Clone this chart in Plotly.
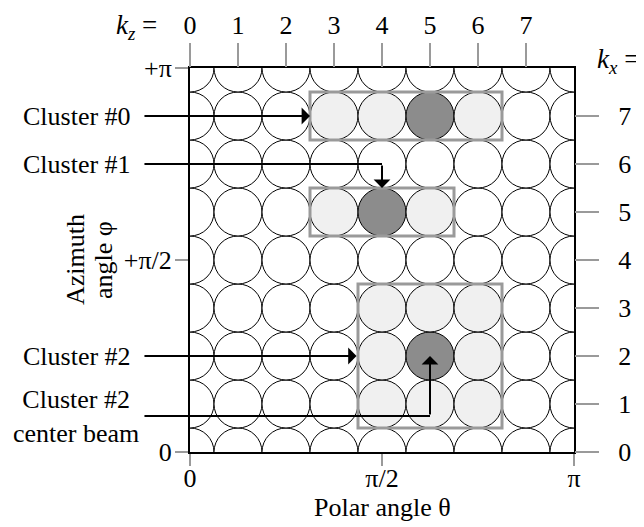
import plotly.graph_objects as go

# ---------------- data ----------------
kz_grid = [0, 1, 2, 3, 4, 5, 6, 7, 8]          # circle centres along k_z
kx_grid = [0, 1, 2, 3, 4, 5, 6, 7, 8]          # circle centres along k_x
kz_ticks = [0, 1, 2, 3, 4, 5, 6, 7]
kx_ticks = [0, 1, 2, 3, 4, 5, 6, 7]
theta_tickvals = [0, 4, 8]
theta_ticktext = ["0", "π/2", "π"]
phi_tickvals = [0, 4, 8]
phi_ticktext = ["0", "+π/2", "+π"]

# shaded beams (kz, kx)
light_kz = [3, 4, 6, 3, 5, 4, 5, 6, 4, 6, 4, 5, 6]
light_kx = [7, 7, 7, 5, 5, 1, 1, 1, 2, 2, 3, 3, 3]
dark_kz = [5, 4, 5]
dark_kx = [7, 5, 2]

# clusters (beam index extents)
cluster_names = ["Cluster #0", "Cluster #1", "Cluster #2"]
cluster_kz_min = [3, 3, 4]
cluster_kz_max = [6, 5, 6]
cluster_kx_min = [7, 5, 1]
cluster_kx_max = [7, 5, 3]

# pointer arrows: label row (kx), elbow / head positions (kz, kx)
label_texts = ["Cluster #0", "Cluster #1", "Cluster #2", "Cluster #2<br>center beam"]
label_kx = [7, 6, 2, 0.75]
tail_kz = -0.98
head_kz = [2.5, 4, 3.47, 5]
head_kx = [7, 5.5, 2, 2]

x_title = "Polar angle θ"
y_title_lines = ["Azimuth", "angle φ"]

FONT = "Liberation Serif"
FS = 26
LIGHT = "#f0f0f0"
DARK = "#8c8c8c"
GRAY = "#9a9a9a"

# ---------------- figure ----------------
cx, cy, cc = [], [], []
light = set(zip(light_kz, light_kx))
dark = set(zip(dark_kz, dark_kx))
for a in kz_grid:
    for b in kx_grid:
        cx.append(a)
        cy.append(b)
        cc.append(DARK if (a, b) in dark else LIGHT if (a, b) in light else "white")

fig = go.Figure()
fig.add_trace(go.Scatter(
    x=cx, y=cy, mode="markers", hoverinfo="skip", showlegend=False,
    marker=dict(size=48, color=cc, line=dict(color="black", width=1)),
    cliponaxis=True,
))
# invisible trace for the top/right index axes
fig.add_trace(go.Scatter(x=kz_ticks, y=kx_ticks, xaxis="x2", yaxis="y2",
                         mode="markers", marker=dict(opacity=0), hoverinfo="skip",
                         showlegend=False))

for i in range(len(cluster_names)):
    fig.add_shape(type="rect", xref="x", yref="y",
                  x0=cluster_kz_min[i] - 0.5, x1=cluster_kz_max[i] + 0.5,
                  y0=cluster_kx_min[i] - 0.5, y1=cluster_kx_max[i] + 0.5,
                  line=dict(color=GRAY, width=3), layer="above")

txtfont = dict(family=FONT, size=FS, color="black")
ann = []
for i, t in enumerate(label_texts):
    elbow = head_kx[i] != label_kx[i]
    x_corner = head_kz[i]
    ann.append(dict(xref="x", yref="y", axref="x", ayref="y",
                    x=x_corner, y=label_kx[i], ax=tail_kz, ay=label_kx[i],
                    showarrow=True, text="",
                    arrowhead=0 if elbow else 1, arrowsize=1.4, arrowwidth=2,
                    arrowcolor="black", standoff=0, startstandoff=0))
    if elbow:
        ann.append(dict(xref="x", yref="y", axref="x", ayref="y",
                        x=head_kz[i], y=head_kx[i], ax=x_corner, ay=label_kx[i],
                        showarrow=True, text="", arrowhead=1, arrowsize=1.4,
                        arrowwidth=2, arrowcolor="black", standoff=0, startstandoff=0))
    if "<br>" in t:
        ann.append(dict(xref="paper", yref="y", x=(76 - 190) / 384, y=label_kx[i],
                        xanchor="center", yanchor="middle", text=t, showarrow=False,
                        font=txtfont))
    else:
        ann.append(dict(xref="paper", yref="y", x=(133 - 190) / 384, y=label_kx[i],
                        xanchor="right", yanchor="middle", text=t, showarrow=False,
                        font=txtfont))

ann.append(dict(xref="paper", yref="paper", x=-0.082, y=1.108, xanchor="right",
                yanchor="middle", showarrow=False,
                text="<i>k</i><sub><i>z</i></sub> =",
                font=dict(family=FONT, size=FS + 1, color="black")))
ann.append(dict(xref="paper", yref="paper", x=1.055, y=1.018, xanchor="left",
                yanchor="middle", showarrow=False,
                text="<i>k</i><sub><i>x</i></sub> =",
                font=dict(family=FONT, size=FS + 1, color="black")))
# axis titles
ann.append(dict(xref="paper", yref="paper", x=0.5, y=(452 - 507) / 384,
                xanchor="center", yanchor="middle", showarrow=False,
                text=x_title, font=txtfont))
for j, line in enumerate(y_title_lines):
    ann.append(dict(xref="paper", yref="y", x=(75 + 28 * j - 190) / 384, y=4,
                    xanchor="center", yanchor="middle", showarrow=False,
                    textangle=-90, text=line, font=txtfont))

tickfont = dict(family=FONT, size=FS, color="black")
# the page body adds an 8 px offset, so margins are shifted by 8 px
fig.update_layout(
    width=644, height=527,
    margin=dict(l=182, r=78, t=60, b=83, autoexpand=False),
    paper_bgcolor="white", plot_bgcolor="white",
    font=dict(family=FONT, size=FS, color="black"),
    showlegend=False,
    annotations=ann,
    xaxis=dict(range=[0, 8], tickvals=theta_tickvals, ticktext=theta_ticktext,
               ticks="outside", ticklen=12, tickwidth=2, tickcolor=GRAY,
               showline=True, linecolor="black", linewidth=2, mirror=True,
               showgrid=False, zeroline=False, tickfont=tickfont,
               ticklabelstandoff=-10, automargin=False),
    yaxis=dict(range=[0, 8], tickvals=phi_tickvals, ticktext=phi_ticktext,
               ticks="outside", ticklen=13, tickwidth=2, tickcolor=GRAY,
               showline=True, linecolor="black", linewidth=2, mirror=True,
               showgrid=False, zeroline=False, tickfont=tickfont,
               ticklabelstandoff=-2, automargin=False),
    xaxis2=dict(range=[0, 8], overlaying="x", side="top", anchor="y2",
                tickvals=kz_ticks, ticks="outside", ticklen=24, tickwidth=2,
                tickcolor=GRAY, showline=False, showgrid=False, zeroline=False,
                tickfont=tickfont, ticklabelstandoff=-1, automargin=False),
    yaxis2=dict(range=[0, 8], overlaying="y", side="right", anchor="x2",
                tickvals=kx_ticks, ticks="outside", ticklen=24, tickwidth=2,
                tickcolor=GRAY, showline=False, showgrid=False, zeroline=False,
                tickfont=tickfont, ticklabelstandoff=14, automargin=False),
)

fig.write_html("out.html")
